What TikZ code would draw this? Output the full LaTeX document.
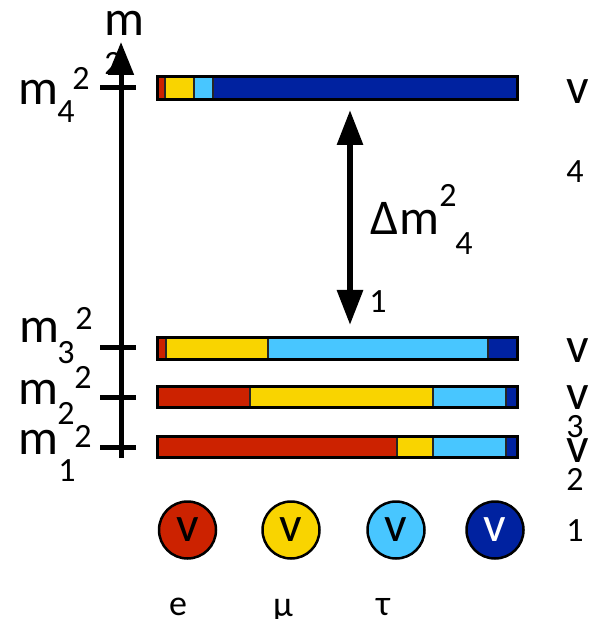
\documentclass[tikz,border=0pt]{standalone}
\usepackage{fontspec}
\setmainfont{Carlito}
\usetikzlibrary{arrows.meta}
\definecolor{nured}{RGB}{204,34,0}
\definecolor{nuyellow}{RGB}{249,212,0}
\definecolor{nucyan}{RGB}{72,198,255}
\definecolor{nublue}{RGB}{0,34,160}
\newcommand{\bigtxt}{\fontsize{25}{25}\selectfont}
\newcommand{\smalltxt}{\fontsize{17}{17}\selectfont}
\tikzset{
  bigl/.style={inner sep=0pt, font=\bigtxt},
  smalll/.style={inner sep=0pt, font=\smalltxt},
  seg/.style={draw=black!85, line width=1pt},
  barline/.style={draw=black, line width=1.5pt},
  flav/.style={circle, draw=black, line width=1.25pt, minimum size=28.5pt, inner sep=0pt, font=\bigtxt},
  tick/.style={line width=2.5pt},
  bigtip/.style={line width=2.5pt, -{Triangle[length=16.5pt,width=12.5pt]}}
}

\begin{document}
\begin{tikzpicture}[x=0.5pt,y=-0.5pt]
\useasboundingbox (0,0) rectangle (596,619);

\node[smalll] (axsq) at (113,63) {2};
\node[bigl] (axm) at (124,23) {m};
\coordinate (axbot) at (121,458);
\coordinate (axtop) at (121,42);
\draw[bigtip] (axbot) -- (axtop);
\draw[tick] (100,88) -- (136,88);
\draw[tick] (100,347) -- (136,347);
\draw[tick] (100,397) -- (136,397);
\draw[tick] (100,447) -- (136,447);

\node[bigl] (m4) at (38,92) {m};
\node[smalll] (m4sub) at (66,112) {4};
\node[smalll] (m4sup) at (81,78) {2};
\node[bigl] (m3) at (39,330) {m};
\node[smalll] (m3sub) at (66,353) {3};
\node[smalll] (m3sup) at (84,318) {2};
\node[bigl] (m2) at (38,392) {m};
\node[smalll] (m2sub) at (66,413) {2};
\node[smalll] (m2sup) at (83,377) {2};
\node[bigl] (m1) at (38,442) {m};
\node[smalll] (m1sub) at (67,471) {1};
\node[smalll] (m1sup) at (83,436) {2};

\filldraw[seg, fill=nured] (158,77) rectangle (165,100);
\filldraw[seg, fill=nuyellow] (165,77) rectangle (194,100);
\filldraw[seg, fill=nucyan] (194,77) rectangle (213,100);
\filldraw[seg, fill=nublue] (213,77) rectangle (517,100);
\draw[barline] (157.5,77) rectangle (517.5,100);

\filldraw[seg, fill=nured] (158,337) rectangle (166,359);
\filldraw[seg, fill=nuyellow] (166,337) rectangle (268,359);
\filldraw[seg, fill=nucyan] (268,337) rectangle (488,359);
\filldraw[seg, fill=nublue] (488,337) rectangle (517,359);
\draw[barline] (157.5,337) rectangle (517.5,359);

\filldraw[seg, fill=nured] (158,386) rectangle (250,407);
\filldraw[seg, fill=nuyellow] (250,386) rectangle (433,407);
\filldraw[seg, fill=nucyan] (433,386) rectangle (506,407);
\filldraw[seg, fill=nublue] (506,386) rectangle (517,407);
\draw[barline] (157.5,386) rectangle (517.5,407);

\filldraw[seg, fill=nured] (158,436) rectangle (397,457);
\filldraw[seg, fill=nuyellow] (397,436) rectangle (433,457);
\filldraw[seg, fill=nucyan] (433,436) rectangle (506,457);
\filldraw[seg, fill=nublue] (506,436) rectangle (517,457);
\draw[barline] (157.5,436) rectangle (517.5,457);

\coordinate (dmtop) at (350,110);
\coordinate (dmbot) at (350,325);
\draw[line width=3pt, {Triangle[length=17.5pt,width=12.5pt]}-{Triangle[length=17.5pt,width=12.5pt]}] (dmtop) -- (dmbot);
\node[bigl] (dm) at (405,218) {Δm};
\node[smalll] (dmsup) at (448,195) {2};
\node[smalll] (dmsub) at (464,244) {4};
\node[smalll] (dmone) at (378,302) {1};

\node[bigl] (nu4) at (578,92) {v};
\node[smalll] (nu4i) at (575,172) {4};
\node[bigl] (nu3) at (578,351) {v};
\node[smalll] (nu3i) at (575,427) {3};
\node[bigl] (nu2) at (578,398) {v};
\node[smalll] (nu2i) at (575,479) {2};
\node[bigl] (nu1) at (578,451) {v};
\node[smalll] (nu1i) at (575,531) {1};

\node[flav, fill=nured] (nue) at (187.5,530) {v};
\node[flav, fill=nuyellow] (numu) at (291,530) {v};
\node[flav, fill=nucyan] (nutau) at (396,530) {v};
\node[flav, fill=nublue, text=white] (nus) at (495,530) {v};
\node[smalll, font=\fontsize{18}{18}\selectfont] (le) at (178,607) {e};
\node[smalll, font=\fontsize{18}{18}\selectfont, anchor=base] (lmu) at (283,616) {μ};
\node[smalll, font=\fontsize{18}{18}\selectfont] (ltau) at (383,607) {τ};
\end{tikzpicture}
\end{document}
